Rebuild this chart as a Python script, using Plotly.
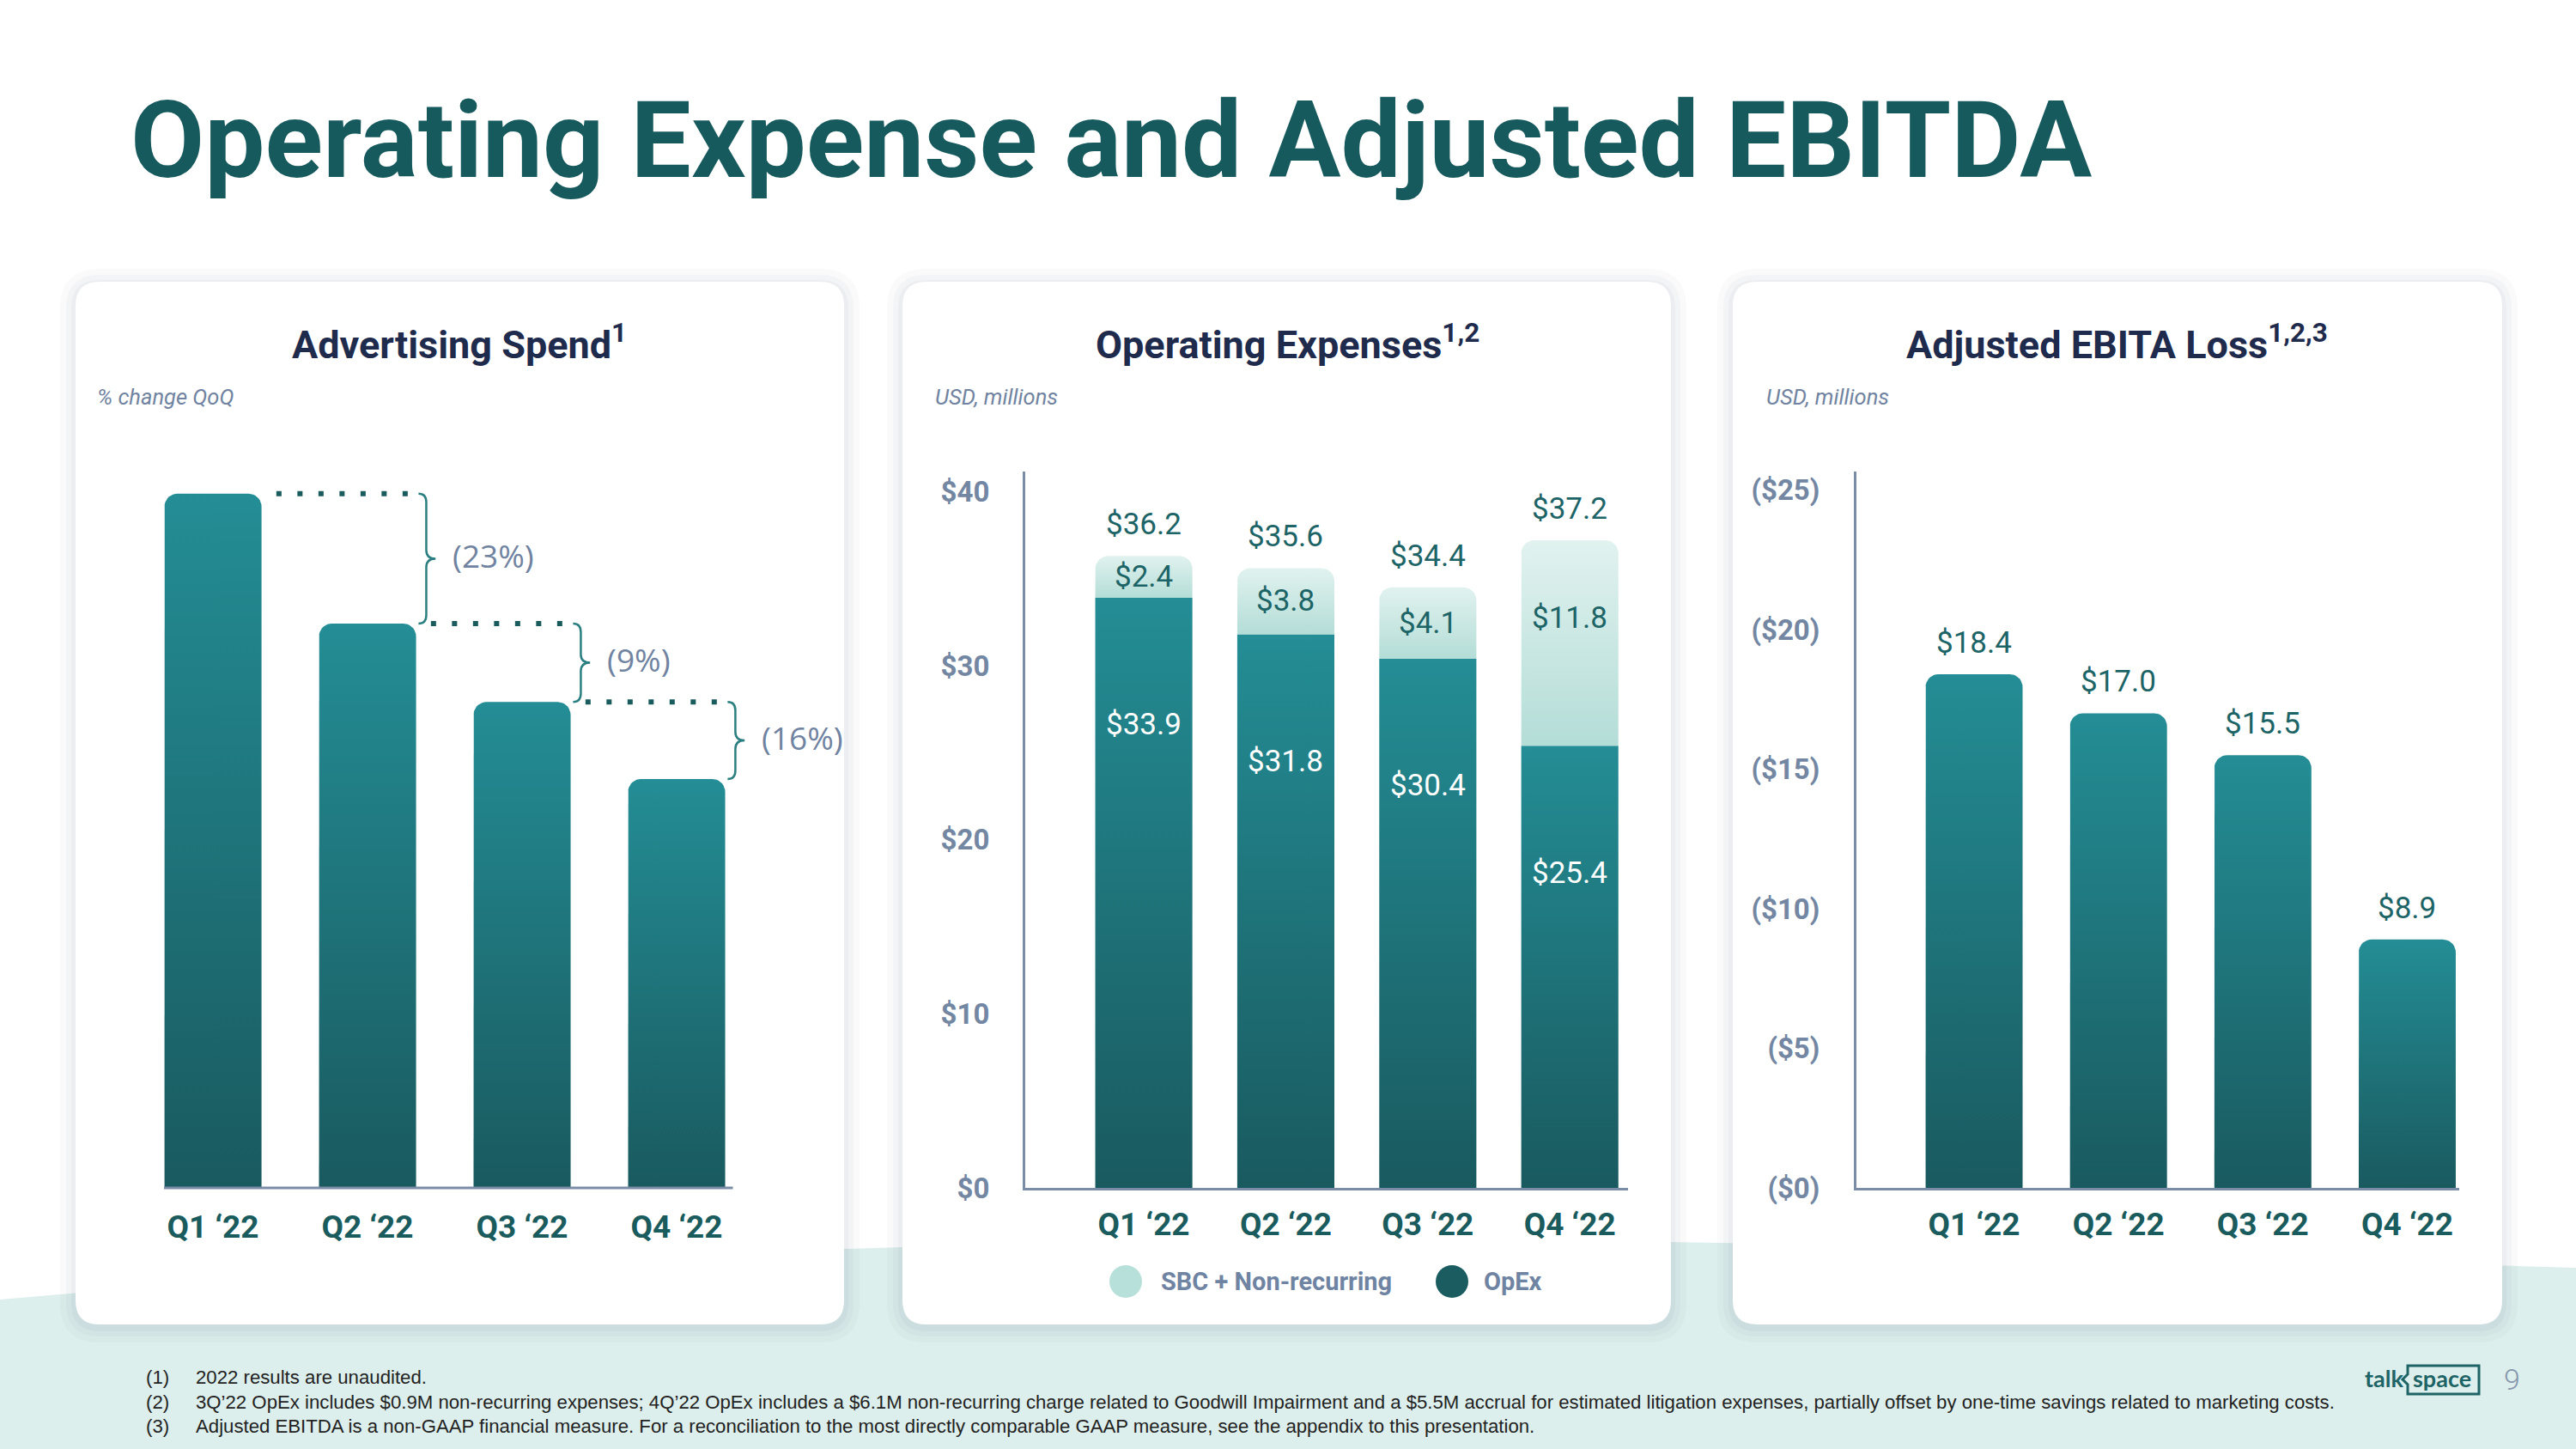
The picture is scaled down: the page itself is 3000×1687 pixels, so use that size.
import numpy as np
import plotly.graph_objects as go

W, H = 3000, 1687          # target picture size
PAGE_H = 1707              # page height captured by the photograph (scaled into H)

# ---------------- data ----------------
quarters = ["Q1 ‘22", "Q2 ‘22", "Q3 ‘22", "Q4 ‘22"]
ad_spend_index = [100.0, 81.3, 70.0, 58.9]          # relative bar heights as drawn
ad_change_labels = ["(23%)", "(9%)", "(16%)"]
opex_core = [33.9, 31.8, 30.4, 25.4]
opex_sbc = [2.4, 3.8, 4.1, 11.8]
opex_total_labels = [36.2, 35.6, 34.4, 37.2]
ebitda_loss = [18.4, 17.0, 15.5, 8.9]
opex_tickvals = [0, 10, 20, 30, 40]
opex_ticktext = ["$0", "$10", "$20", "$30", "$40"]
ebitda_tickvals = [0, 5, 10, 15, 20, 25]
ebitda_ticktext = ["($0)", "($5)", "($10)", "($15)", "($20)", "($25)"]
legend_labels = ["SBC + Non-recurring", "OpEx"]
footnote_marks = ["(1)", "(2)", "(3)"]
footnote_texts = [
    "2022 results are unaudited.",
    "3Q’22 OpEx includes $0.9M non-recurring expenses; 4Q’22 OpEx includes a $6.1M non-recurring charge "
    "related to Goodwill Impairment and a $5.5M accrual for estimated litigation expenses, partially offset "
    "by one-time savings related to marketing costs.",
    "Adjusted EBITDA is a non-GAAP financial measure. For a reconciliation to the most directly comparable "
    "GAAP measure, see the appendix to this presentation.",
]

# ---------------- styles ----------------
TITLE_C = "#175a5d"
NAVY = "#1f2b4d"
GRAY = "#7083a0"
AXIS_C = "#7b8ca7"
LABEL_C = "#1d6467"
QLAB_C = "#1a5c5e"
BAR_BOT, BAR_TOP = "#195a5f", "#248d95"
SBC_BOT, SBC_TOP = "#b4ddd7", "#e1f2ef"
WAVE_C = "#ddefec"
FONT = "Roboto"


def P(x, y):
    return f"{x / W:.5f},{1 - y / H:.5f}"


def PX(x):
    return x / W


def PY(y):
    return 1 - y / H


AX = {
    1: dict(xpx=(191, 968), xr=(-0.317, 4.0), ypx=(549, 1395), yr=(-1.5, 103.2), hw=0.314),
    2: dict(xpx=(1194, 1896), xr=(-0.835, 3.41), ypx=(549, 1383), yr=(0, 41.15), hw=0.342),
    3: dict(xpx=(2162, 2864), xr=(-0.815, 3.36), ypx=(549, 1383), yr=(0, 25.66), hw=0.336),
}
RADIUS = 15


def unit_per_px(i):
    a = AX[i]
    ux = (a["xr"][1] - a["xr"][0]) / (a["xpx"][1] - a["xpx"][0])
    uy = (a["yr"][1] - a["yr"][0]) / (a["ypx"][1] - a["ypx"][0])
    return ux, uy


def bar_polygon(xc, base, top, hw, rx, ry, rounded=True, n=10):
    left, right = xc - hw, xc + hw
    if not rounded:
        return [left, left, right, right, left], [base, top, top, base, base]
    xs, ys = [left], [base]
    for t in np.linspace(np.pi, np.pi / 2, n):
        xs.append(left + rx + rx * np.cos(t))
        ys.append(top - ry + ry * np.sin(t))
    for t in np.linspace(np.pi / 2, 0, n):
        xs.append(right - rx + rx * np.cos(t))
        ys.append(top - ry + ry * np.sin(t))
    xs += [right, left]
    ys += [base, base]
    return xs, ys


def grad_bar(i, xc, base, top, cbot, ctop, rounded=True):
    ux, uy = unit_per_px(i)
    xs, ys = bar_polygon(xc, base, top, AX[i]["hw"], RADIUS * ux, RADIUS * uy, rounded)
    sfx = "" if i == 1 else str(i)
    return go.Scatter(
        x=xs, y=ys, mode="lines", fill="toself",
        fillgradient=dict(type="vertical", colorscale=[[0, cbot], [1, ctop]]),
        line=dict(width=0), hoverinfo="skip", showlegend=False,
        xaxis="x" + sfx, yaxis="y" + sfx,
    )


fig = go.Figure()

for k, v in enumerate(ad_spend_index):
    fig.add_trace(grad_bar(1, k, 0, v, BAR_BOT, BAR_TOP))
for k in range(4):
    fig.add_trace(grad_bar(2, k, 0, opex_core[k], BAR_BOT, BAR_TOP, rounded=False))
    fig.add_trace(grad_bar(2, k, opex_core[k], opex_core[k] + opex_sbc[k], SBC_BOT, SBC_TOP))
for k, v in enumerate(ebitda_loss):
    fig.add_trace(grad_bar(3, k, 0, v, BAR_BOT, BAR_TOP))

# ---------------- shapes ----------------
shapes = []


def rrect(x0, y0, x1, y1, r):
    return (f"M{P(x0 + r, y0)} L{P(x1 - r, y0)} Q{P(x1, y0)} {P(x1, y0 + r)} "
            f"L{P(x1, y1 - r)} Q{P(x1, y1)} {P(x1 - r, y1)} L{P(x0 + r, y1)} "
            f"Q{P(x0, y1)} {P(x0, y1 - r)} L{P(x0, y0 + r)} Q{P(x0, y0)} {P(x0 + r, y0)} Z")


wave = (f"M{P(0, 1513)} C{P(700, 1450)} {P(1500, 1430)} {P(2200, 1452)} "
        f"C{P(2600, 1462)} {P(2850, 1472)} {P(3000, 1476)} L{P(3000, 1687)} L{P(0, 1687)} Z")
shapes.append(dict(type="path", path=wave, xref="paper", yref="paper",
                   fillcolor=WAVE_C, line=dict(width=0), layer="below"))

panels = [(88, 328, 983, 1542), (1051, 328, 1946, 1542), (2018, 328, 2914, 1542)]
for (x0, y0, x1, y1) in panels:
    for e, a in [(18, 0.025), (11, 0.03), (5, 0.035)]:
        shapes.append(dict(type="path", path=rrect(x0 - e, y0 - e + 3, x1 + e, y1 + e + 3, 28 + e),
                           xref="paper", yref="paper", fillcolor=f"rgba(40,60,80,{a})",
                           line=dict(width=0), layer="below"))
    shapes.append(dict(type="path", path=rrect(x0, y0, x1, y1, 28), xref="paper", yref="paper",
                       fillcolor="white", line=dict(width=0), layer="below"))

shapes.append(dict(type="line", xref="x", yref="y", x0=AX[1]["xr"][0], x1=3 + AX[1]["hw"] + 0.05,
                   y0=0, y1=0, line=dict(color=AXIS_C, width=3)))

ux1, uy1 = unit_per_px(1)
d = 10 * uy1
for k in range(3):
    a, b = ad_spend_index[k], ad_spend_index[k + 1]
    shapes.append(dict(type="line", xref="x", yref="y", x0=k + 0.41, x1=k + 1.28, y0=a, y1=a,
                       line=dict(color="#1a5c5e", width=6, dash="6px,18.5px")))
    x0, xm, x1 = k + 1.33, k + 1.38, k + 1.44
    m = (a + b) / 2
    path = (f"M{x0},{a} Q{xm},{a} {xm},{a - d} L{xm},{m + d} Q{xm},{m} {x1},{m} "
            f"Q{xm},{m} {xm},{m - d} L{xm},{b + d} Q{xm},{b} {x0},{b}")
    shapes.append(dict(type="path", xref="x", yref="y", path=path,
                       line=dict(color="#2b7f80", width=2.5)))

shapes.append(dict(type="circle", xref="paper", yref="paper", x0=PX(1292), x1=PX(1330),
                   y0=PY(1511), y1=PY(1473), fillcolor="#b8e0da", line=dict(width=0)))
shapes.append(dict(type="circle", xref="paper", yref="paper", x0=PX(1672), x1=PX(1710),
                   y0=PY(1511), y1=PY(1473), fillcolor="#1a5c5f", line=dict(width=0)))

logo_box = (f"M{P(2804, 1590)} L{P(2887, 1590)} L{P(2887, 1623)} L{P(2804, 1623)} "
            f"L{P(2804, 1612)} L{P(2798, 1606)} L{P(2804, 1600)} Z")
shapes.append(dict(type="path", path=logo_box, xref="paper", yref="paper",
                   line=dict(color="#1e6466", width=3)))

# ---------------- annotations ----------------
ann = []


def txt(text, x, y, size, color, weight=400, xanchor="center", yanchor="middle",
        family=FONT, style="normal"):
    ann.append(dict(text=text, x=PX(x), y=PY(y), xref="paper", yref="paper", showarrow=False,
                    xanchor=xanchor, yanchor=yanchor,
                    font=dict(family=family, size=size, color=color, weight=weight, style=style)))


txt("Operating Expense and Adjusted EBITDA", 150, 164, 125, TITLE_C, weight=700, xanchor="left")
txt("Advertising Spend<sup>1</sup>", 535, 398, 45, NAVY, weight=700)
txt("Operating Expenses<sup>1,2</sup>", 1499, 398, 45, NAVY, weight=700)
txt("Adjusted EBITA Loss<sup>1,2,3</sup>", 2465, 398, 45, NAVY, weight=700)
txt("% change QoQ", 111, 462, 25.5, GRAY, xanchor="left", style="italic")
txt("USD, millions", 1087, 462, 25.5, GRAY, xanchor="left", style="italic")
txt("USD, millions", 2055, 462, 25.5, GRAY, xanchor="left", style="italic")

txt(legend_labels[0], 1350, 1492, 29, "#6f84a2", weight=700, xanchor="left")
txt(legend_labels[1], 1726, 1492, 29, "#6f84a2", weight=700, xanchor="left")

for i, (mk, t) in enumerate(zip(footnote_marks, footnote_texts)):
    yy = [1603, 1632, 1660][i]
    txt(mk, 168, yy, 22.2, "#222222", xanchor="left", family="Liberation Sans")
    txt(t, 226, yy, 22.2, "#222222", xanchor="left", family="Liberation Sans")

txt("talk", 2801, 1604, 27, "#1e6466", weight=700, xanchor="right", family="Lato")
txt("space", 2808, 1604, 27, "#1e6466", weight=700, xanchor="left", family="Lato")
txt("9", 2925, 1606, 34, "#8797ad", weight=300)

for k in range(3):
    m = (ad_spend_index[k] + ad_spend_index[k + 1]) / 2
    ann.append(dict(text=ad_change_labels[k], x=k + 1.54, y=m, xref="x", yref="y", showarrow=False,
                    xanchor="left", yanchor="middle", yshift=4,
                    font=dict(family="Open Sans", size=37, color=GRAY)))

ux2, uy2 = unit_per_px(2)
for k in range(4):
    top = opex_core[k] + opex_sbc[k]
    ann.append(dict(text=f"${opex_total_labels[k]:.1f}", x=k, y=top, xref="x2", yref="y2",
                    showarrow=False, yanchor="bottom", yshift=14,
                    font=dict(family=FONT, size=35, color=LABEL_C)))
    sbc_y = max(opex_core[k] + opex_sbc[k] / 2, top - 90 * uy2)
    ann.append(dict(text=f"${opex_sbc[k]:.1f}", x=k, y=sbc_y, xref="x2",
                    yref="y2", showarrow=False, yanchor="middle",
                    font=dict(family=FONT, size=35, color=LABEL_C)))
    ann.append(dict(text=f"${opex_core[k]:.1f}", x=k, y=opex_core[k], xref="x2", yref="y2",
                    showarrow=False, yanchor="middle", yshift=-148,
                    font=dict(family=FONT, size=35, color="white")))

for k, v in enumerate(ebitda_loss):
    ann.append(dict(text=f"${v:.1f}", x=k, y=v, xref="x3", yref="y3", showarrow=False,
                    yanchor="bottom", yshift=14, font=dict(family=FONT, size=35, color=LABEL_C)))

# ---------------- axes ----------------
qfont = dict(family=FONT, size=37, color=QLAB_C, weight=700)
yfont = dict(family=FONT, size=33, color="#7387a3", weight=700)


def xaxis(i, showline, standoff):
    a = AX[i]
    return dict(domain=[PX(a["xpx"][0]), PX(a["xpx"][1])], range=list(a["xr"]), showgrid=False,
                zeroline=False, showline=showline, linecolor=AXIS_C, linewidth=3,
                tickvals=[0, 1, 2, 3], ticktext=quarters, tickfont=qfont, ticks="",
                ticklabelstandoff=standoff, anchor="y" + ("" if i == 1 else str(i)), fixedrange=True)


def yaxis(i):
    a = AX[i]
    return dict(domain=[PY(a["ypx"][1]), PY(a["ypx"][0])], range=list(a["yr"]), showgrid=False,
                zeroline=False, anchor="x" + ("" if i == 1 else str(i)), fixedrange=True)


y1 = yaxis(1)
y1.update(visible=False)
y2 = yaxis(2)
y2.update(showline=True, linecolor=AXIS_C, linewidth=3, tickvals=opex_tickvals,
          ticktext=opex_ticktext, tickfont=yfont, ticks="", ticklabelstandoff=32)
y3 = yaxis(3)
y3.update(showline=True, linecolor=AXIS_C, linewidth=3, tickvals=ebitda_tickvals,
          ticktext=ebitda_ticktext, tickfont=yfont, ticks="", ticklabelstandoff=33)

fig.update_layout(
    width=W, height=PAGE_H, autosize=False, margin=dict(l=0, r=0, t=0, b=0, pad=0),
    paper_bgcolor="white", plot_bgcolor="rgba(0,0,0,0)", showlegend=False,
    xaxis=xaxis(1, False, 8), yaxis=y1,
    xaxis2=xaxis(2, True, 8), yaxis2=y2,
    xaxis3=xaxis(3, True, 8), yaxis3=y3,
    shapes=shapes, annotations=ann,
    font=dict(family=FONT),
)

fig.write_html(
    "out.html",
    config={"responsive": False, "displayModeBar": False},
    post_script="document.body.style.margin='0';document.body.style.overflow='hidden';"
                "document.body.style.background='" + WAVE_C + "';",
)
